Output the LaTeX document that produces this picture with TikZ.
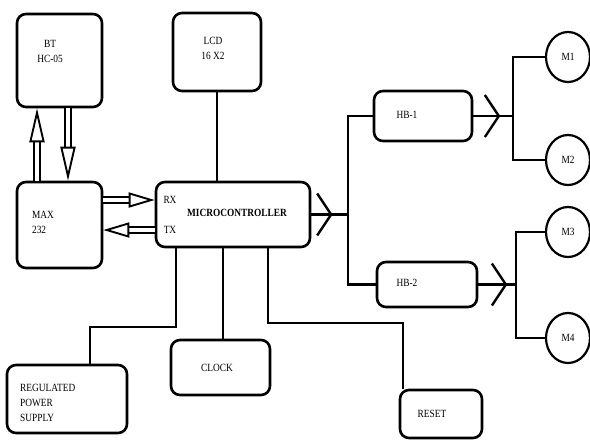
\documentclass[tikz,border=0pt]{standalone}
\usepackage{fontspec}
\setmainfont[FakeStretch=0.85]{Liberation Serif}
\usetikzlibrary{arrows.meta,decorations.markings,shapes.geometric}

\begin{document}
\begin{tikzpicture}[x=1pt, y=-1pt,
        block/.style = {draw, rounded corners=9pt, line width=2.6pt, inner sep=0pt},
        motor/.style = {draw, ellipse, line width=2.2pt, minimum width=44pt, minimum height=50pt, inner sep=0pt, font=\fontsize{11}{15}\selectfont},
        txt/.style = {font=\fontsize{11}{15}\selectfont, inner sep=0pt},
        wire/.style = {line width=2.4pt},
        dblarrow/.style = {double, double distance=4.5pt, line width=1.9pt, -{Triangle[open, length=#1, width=15pt]}},
        dblarrow/.default = 26pt,
        chev/.style = {postaction={decorate}, decoration={markings, mark=at position #1 with {\arrow[line width=2.4pt]{Straight Barb[length=14pt, width=42pt]}}}}]

    \useasboundingbox (0,0) rectangle (590,440);

    % blocks
    \node[block, minimum width=85pt, minimum height=93pt] (bt) at (59.5,60.5) {};
    \node[txt, align=center] (btlbl) at (50,51) {BT\\HC-05};

    \node[block, minimum width=88pt, minimum height=78pt] (lcd) at (217,52) {};
    \node[txt, align=center] (lcdlbl) at (213,48.5) {LCD\\16 X2};

    \node[block, minimum width=85pt, minimum height=86pt] (max) at (59.5,225) {};
    \node[txt, align=left] (maxlbl) at (43,222) {MAX\\232};

    \node[block, minimum width=154pt, minimum height=65pt] (mcu) at (233,214.5) {};
    \node[txt] (mculbl) at (237,213) {\bfseries MICROCONTROLLER};
    \node[txt] (rxlbl) at (170,200) {RX};
    \node[txt] (txlbl) at (170,230) {TX};

    \node[block, minimum width=98pt, minimum height=50pt] (hb1) at (423,116) {};
    \node[txt] (hb1lbl) at (407,115) {HB-1};
    \node[block, minimum width=100pt, minimum height=45pt] (hb2) at (427,284.5) {};
    \node[txt] (hb2lbl) at (407,283) {HB-2};

    \node[block, minimum width=120pt, minimum height=68pt] (rps) at (67,399) {};
    \node[txt, align=left, anchor=west] (rpslbl) at (20,402.5) {REGULATED\\POWER\\SUPPLY};
    \node[block, minimum width=99pt, minimum height=55pt] (clock) at (220.5,367.5) {};
    \node[txt] (clocklbl) at (217,368) {CLOCK};
    \node[block, minimum width=82pt, minimum height=48pt] (reset) at (441,414) {};
    \node[txt] (resetlbl) at (432,414) {RESET};

    % motors
    \node[motor] (m1) at (568,57) {M1};
    \node[motor] (m2) at (568,160) {M2};
    \node[motor] (m3) at (568,232) {M3};
    \node[motor] (m4) at (568,338) {M4};

    % links
    \draw[wire] (lcd.south) -- (lcd.south |- mcu.north);
    \draw[dblarrow=34pt] ([xshift=-22.5pt]max.north) -- ([xshift=-22.5pt]bt.south);
    \draw[dblarrow=34pt] ([xshift=8.5pt]bt.south) -- ([xshift=8.5pt]max.north);
    \draw[dblarrow] (max.east |- rxlbl) -- (mcu.west |- rxlbl);
    \draw[dblarrow] (mcu.west |- txlbl) -- (max.east |- txlbl);

    \coordinate (busA) at (348,214.5);
    \draw[wire, chev=0.58] (mcu.east) -- (busA);
    \draw[wire] (hb1.west) -| (busA) |- (hb2.west);

    \coordinate (busB) at (513,116);
    \draw[wire, chev=0.68] (hb1.east) -- (busB);
    \draw[wire] (m1.west) -| (busB) |- (m2.west);

    \coordinate (busC) at (516,284.5);
    \draw[wire, chev=0.77] (hb2.east) -- (busC);
    \draw[wire] (m3.west) -| (busC) |- (m4.west);

    \coordinate (rpsk) at (90,327);
    \draw[wire] ([xshift=-57pt]mcu.south) |- (rpsk) -- (rpsk |- rps.north);
    \draw[wire] ([xshift=-10pt]mcu.south) -- ([xshift=-10pt]mcu.south |- clock.north);
    \coordinate (rstk) at (403,323);
    \draw[wire] ([xshift=35pt]mcu.south) |- (rstk) -- (rstk |- reset.north);

\end{tikzpicture}
\end{document}
